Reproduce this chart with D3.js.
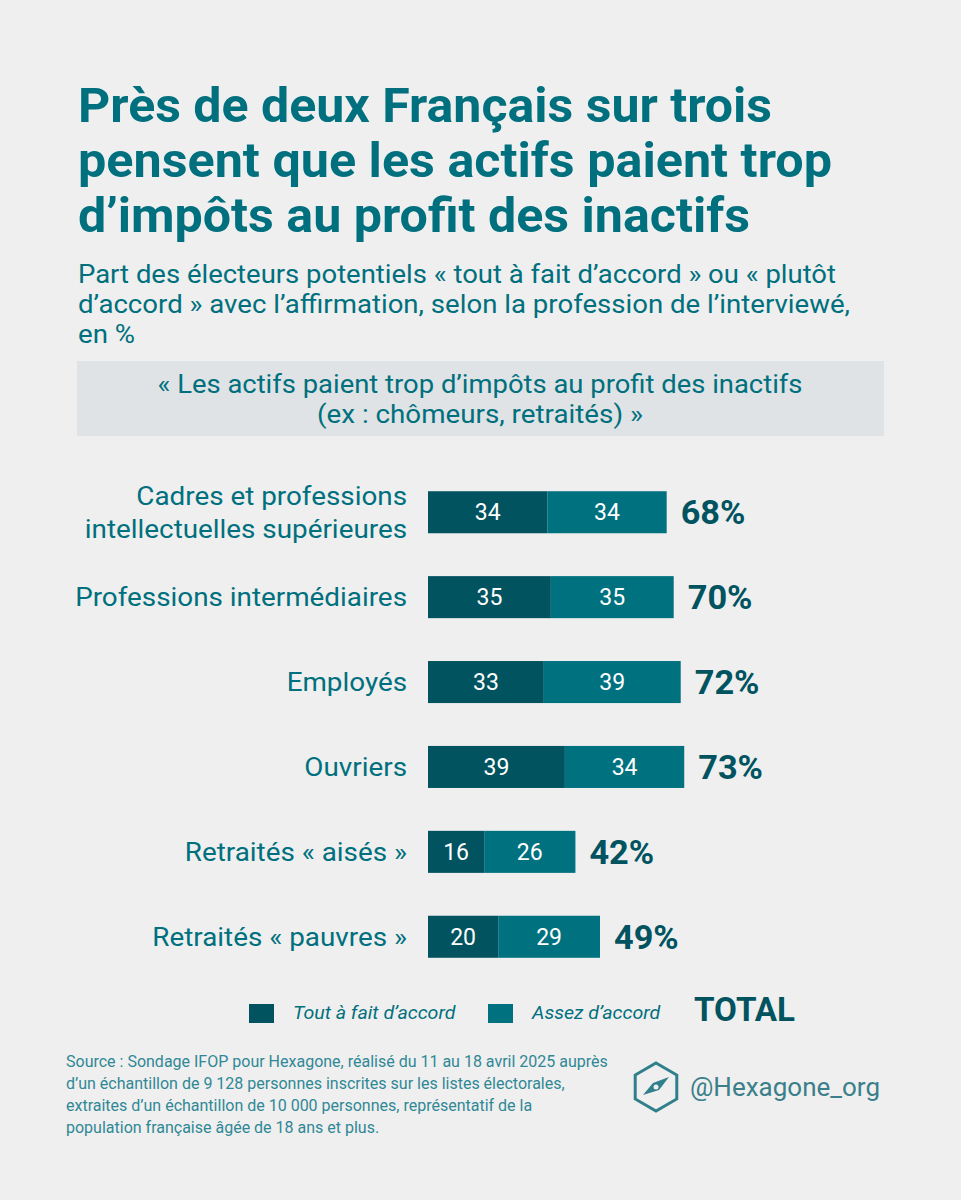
<!DOCTYPE html>
<html>
<head>
<meta charset="utf-8">
<script src="https://cdn.jsdelivr.net/npm/d3@7"></script>
<style>
  body { margin: 0; background: #efefef; }
  svg { display: block; font-family: Roboto, "Noto Sans", sans-serif; }
</style>
</head>
<body>
<div id="chart"></div>
<script>
// Data
const categories = [
    ["Cadres et professions", "intellectuelles supérieures"],
    ["Professions intermédiaires"],
    ["Employés"],
    ["Ouvriers"],
    ["Retraités « aisés »"],
    ["Retraités « pauvres »"]
];
const toutAFait = [34, 35, 33, 39, 16, 20];
const assez = [34, 35, 39, 34, 26, 29];
const totals = [68, 70, 72, 73, 42, 49];
const seriesNames = ["Tout à fait d’accord", "Assez d’accord"];

const titleLines = [
    "Près de deux Français sur trois",
    "pensent que les actifs paient trop",
    "d’impôts au profit des inactifs"
];
const subtitleLines = [
    "Part des électeurs potentiels « tout à fait d’accord » ou « plutôt",
    "d’accord » avec l’affirmation, selon la profession de l’interviewé,",
    "en %"
];
const quoteLines = [
    "« Les actifs paient trop d’impôts au profit des inactifs",
    "(ex : chômeurs, retraités) »"
];
const sourceLines = [
    "Source : Sondage IFOP pour Hexagone, réalisé du 11 au 18 avril 2025 auprès",
    "d’un échantillon de 9 128 personnes inscrites sur les listes électorales,",
    "extraites d’un échantillon de 10 000 personnes, représentatif de la",
    "population française âgée de 18 ans et plus."
];

const width = 961, height = 1200;
const dark = "#00535f", mid = "#00717f", teal = "#00707e";

const svg = d3.select("#chart").append("svg")
    .attr("width", width)
    .attr("height", height)
    .attr("viewBox", [0, 0, width, height]);

svg.append("rect").attr("width", width).attr("height", height).attr("fill", "#efefef");

// the original face is wider than Roboto: stretch texts to the widths seen
function fitTo(node, w) {
    d3.select(node).attr("textLength", w).attr("lengthAdjust", "spacingAndGlyphs");
}
function stretch(node, k) {
    fitTo(node, node.getComputedTextLength() * k);
}

// Title
const titleWidths = [694, 754, 672];
svg.append("g").selectAll("text")
    .data(titleLines)
    .join("text")
    .attr("x", 78)
    .attr("y", (d, i) => 122 + i * 55)
    .attr("fill", teal)
    .attr("font-size", 48)
    .attr("font-weight", 700)
    .text(d => d)
    .each(function(d, i) { fitTo(this, titleWidths[i]); });

// Subtitle
const subWidths = [758, 772, 57];
svg.append("g").selectAll("text")
    .data(subtitleLines)
    .join("text")
    .attr("x", 78)
    .attr("y", (d, i) => 283 + i * 30)
    .attr("fill", teal)
    .attr("font-size", 25)
    .text(d => d)
    .each(function(d, i) { fitTo(this, subWidths[i]); });

// Quote box
svg.append("rect")
    .attr("x", 77).attr("y", 361)
    .attr("width", 807).attr("height", 75)
    .attr("fill", "#dfe3e5");

const quoteWidths = [645, 326];
svg.append("g").selectAll("text")
    .data(quoteLines)
    .join("text")
    .attr("x", 480)
    .attr("y", (d, i) => 393 + i * 30)
    .attr("text-anchor", "middle")
    .attr("fill", teal)
    .attr("font-size", 26)
    .text(d => d)
    .each(function(d, i) { fitTo(this, quoteWidths[i]); });

// Scales
const x = d3.scaleLinear().domain([0, 100]).range([428, 779]);
const y = d3.scaleBand()
    .domain(d3.range(categories.length))
    .range([470, 979])
    .paddingInner(0.505)
    .paddingOuter(0.25);

const rows = svg.append("g").selectAll("g")
    .data(categories)
    .join("g")
    .attr("transform", (d, i) => `translate(0,${y(i)})`);

const bh = y.bandwidth();

// Category labels
rows.append("g")
    .each(function(d) {
        const g = d3.select(this);
        d.forEach((line, j) => {
            g.append("text")
                .attr("x", 407)
                .attr("y", bh / 2 + 9 + (j - (d.length - 1) / 2) * 33)
                .attr("text-anchor", "end")
                .attr("fill", teal)
                .attr("font-size", 26)
                .text(line)
                .each(function() { stretch(this, 1.07); });
        });
    });

// Segments
rows.append("rect")
    .attr("x", x(0))
    .attr("width", (d, i) => x(toutAFait[i]) - x(0))
    .attr("height", bh)
    .attr("fill", dark);

rows.append("rect")
    .attr("x", (d, i) => x(toutAFait[i]))
    .attr("width", (d, i) => x(toutAFait[i] + assez[i]) - x(toutAFait[i]))
    .attr("height", bh)
    .attr("fill", mid);

// Values inside segments
rows.append("text")
    .attr("x", (d, i) => (x(0) + x(toutAFait[i])) / 2)
    .attr("y", bh / 2 + 8)
    .attr("text-anchor", "middle")
    .attr("fill", "#fff")
    .attr("font-size", 23)
    .text((d, i) => toutAFait[i]);

rows.append("text")
    .attr("x", (d, i) => (x(toutAFait[i]) + x(toutAFait[i] + assez[i])) / 2)
    .attr("y", bh / 2 + 8)
    .attr("text-anchor", "middle")
    .attr("fill", "#fff")
    .attr("font-size", 23)
    .text((d, i) => assez[i]);

// Totals
rows.append("text")
    .attr("x", (d, i) => x(toutAFait[i] + assez[i]) + 14)
    .attr("y", bh / 2 + 12)
    .attr("fill", dark)
    .attr("font-size", 33)
    .attr("font-weight", 700)
    .text((d, i) => totals[i] + "%")
    .each(function() { stretch(this, 1.04); });

// Legend
const legend = svg.append("g");
const legendX = [249, 488];
const legendColors = [dark, mid];
seriesNames.forEach((name, i) => {
    legend.append("rect")
        .attr("x", legendX[i]).attr("y", 1004)
        .attr("width", 25).attr("height", 19)
        .attr("fill", legendColors[i]);
    legend.append("text")
        .attr("x", legendX[i] + 44).attr("y", 1019)
        .attr("fill", teal)
        .attr("font-size", 19)
        .attr("font-style", "italic")
        .text(name)
        .each(function() { stretch(this, 1.03); });
});
legend.append("text")
    .attr("x", 694).attr("y", 1021)
    .attr("fill", dark)
    .attr("font-size", 33)
    .attr("font-weight", 700)
    .text("TOTAL")
    .each(function() { fitTo(this, 101); });

// Source
svg.append("g").selectAll("text")
    .data(sourceLines)
    .join("text")
    .attr("x", 66)
    .attr("y", (d, i) => 1067 + i * 22)
    .attr("fill", "#2f8896")
    .attr("font-size", 16)
    .text(d => d);

// Logo
const logo = svg.append("g").attr("transform", "translate(656,1087)");
const hex = d3.range(6).map(k => {
    const a = Math.PI / 3 * k - Math.PI / 2;
    return [24 * Math.cos(a), 24 * Math.sin(a)];
});
logo.append("polygon")
    .attr("points", hex.map(p => p.join(",")).join(" "))
    .attr("fill", "none")
    .attr("stroke", "#2f7f8c")
    .attr("stroke-width", 3);
logo.append("polygon")
    .attr("points", "-13,8 -3,-4 13,-10 3,3")
    .attr("fill", "#2f7f8c");
logo.append("circle").attr("r", 2.5).attr("fill", "#efefef");

svg.append("text")
    .attr("x", 690).attr("y", 1096)
    .attr("fill", "#3b7f8a")
    .attr("font-size", 26)
    .text("@Hexagone_org");
</script>
</body>
</html>
